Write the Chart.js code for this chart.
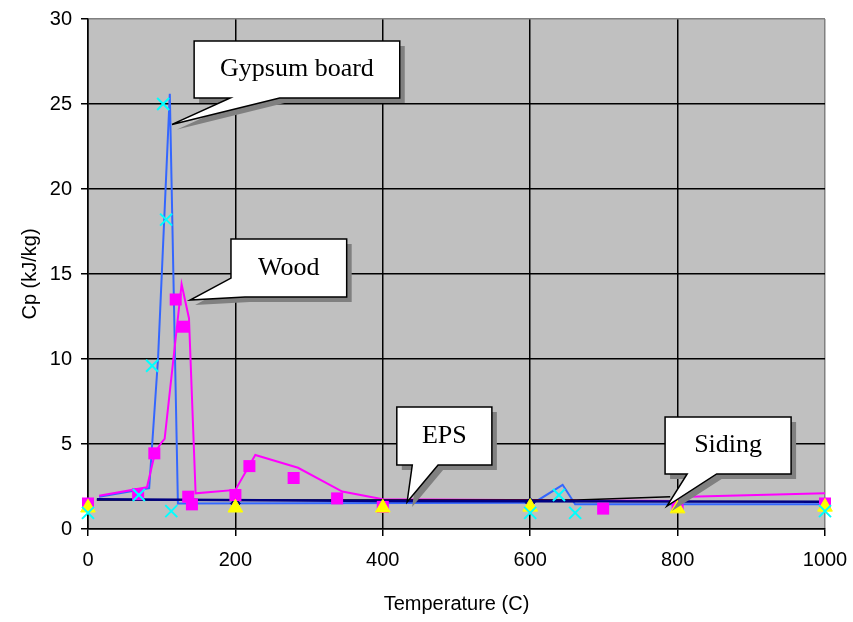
<!DOCTYPE html>
<html>
<head>
<meta charset="utf-8">
<title>Cp vs temperature</title>
<script src="https://cdn.jsdelivr.net/npm/chart.js@4.4.0/dist/chart.umd.min.js"></script>
<style>
  html, body { margin: 0; padding: 0; background: #fff; }
  #wrap { width: 853px; height: 622px; }
</style>
</head>
<body>
<div id="wrap"><canvas id="cp_chart" width="853" height="622"></canvas></div>
<script>
// measured points (markers)
var gypsumTemp = [0, 69, 87, 102, 106, 113, 600, 639, 661, 1000];
var gypsumCp = [0.95, 2.0, 9.6, 25.0, 18.2, 1.05, 0.95, 2.0, 0.95, 1.05];

var woodTemp = [0, 68, 90, 119, 129, 136, 141, 200, 219, 279, 338, 400, 699, 800, 1000];
var woodCp = [1.5, 2.05, 4.45, 13.5, 11.9, 1.9, 1.45, 2.0, 3.7, 3.0, 1.8, 1.3, 1.2, 1.3, 1.5];

var sidingTemp = [0, 200, 400, 600, 800, 1000];
var sidingCp = [1.25, 1.25, 1.25, 1.3, 1.2, 1.3];

var epsTemp = [200, 600];
var epsCp = [1.5, 1.55];

// model curves (lines)
var gypsumModelTemp = [15, 83, 95, 111, 122, 600, 609, 644, 661, 1000];
var gypsumModelCp = [1.9, 2.4, 10, 25.6, 1.5, 1.55, 1.65, 2.6, 1.45, 1.45];

var woodModelTemp = [15, 80, 91, 100, 104, 127, 137, 146, 200, 227, 285, 345, 400, 800, 815, 1000];
var woodModelCp = [1.95, 2.45, 4.5, 5.1, 5.3, 14.4, 12.4, 2.1, 2.3, 4.35, 3.6, 2.2, 1.75, 1.65, 1.9, 2.1];

var epsModelTemp = [12, 400, 1000];
var epsModelCp = [1.75, 1.65, 1.6];

var sidingModelTemp = [12, 663, 790];
var sidingModelCp = [1.7, 1.7, 1.9];

var xTicks = [0, 200, 400, 600, 800, 1000];
var yTicks = [0, 5, 10, 15, 20, 25, 30];

function pts(xs, ys) {
  return xs.map(function (x, i) { return {x: x, y: ys[i]}; });
}

// callout boxes, in data units: box [left, top, right, bottom], pointer base points and tip
var callouts = [
  {text: "Gypsum board", box: [144, 28.7, 423, 25.35], from: [260, 25.35], tip: [114, 23.8], to: [193, 25.35]},
  {text: "Wood", box: [194, 17.06, 351, 13.65], from: [213, 13.65], tip: [138.5, 13.47], to: [194, 14.76]},
  {text: "EPS", box: [419, 7.18, 548, 3.76], from: [475, 3.76], tip: [433, 1.59], to: [440, 3.76]},
  {text: "Siding", box: [783, 6.59, 954, 3.24], from: [853, 3.24], tip: [785.6, 1.35], to: [813, 3.24]}
];

var plotBackground = {
  id: 'plotBackground',
  beforeDraw: function (chart) {
    var a = chart.chartArea, ctx = chart.ctx;
    ctx.save();
    ctx.fillStyle = '#c0c0c0';
    ctx.fillRect(a.left, a.top, a.right - a.left, a.bottom - a.top);
    ctx.restore();
  }
};

var calloutPlugin = {
  id: 'callouts',
  afterDatasetsDraw: function (chart) {
    var ctx = chart.ctx, xs = chart.scales.x, ys = chart.scales.y;
    var px = function (v) { return xs.getPixelForValue(v); };
    var py = function (v) { return ys.getPixelForValue(v); };
    callouts.forEach(function (c) {
      var L = px(c.box[0]), T = py(c.box[1]), R = px(c.box[2]), B = py(c.box[3]);
      var poly = [[L, T], [R, T], [R, B], [px(c.from[0]), py(c.from[1])],
                  [px(c.tip[0]), py(c.tip[1])], [px(c.to[0]), py(c.to[1])]];
      if (c.to[0] !== c.box[0]) poly.push([L, B]);
      var trace = function (dx, dy) {
        ctx.beginPath();
        poly.forEach(function (p, i) {
          if (i === 0) ctx.moveTo(p[0] + dx, p[1] + dy);
          else ctx.lineTo(p[0] + dx, p[1] + dy);
        });
        ctx.closePath();
      };
      ctx.save();
      trace(5, 5);
      ctx.fillStyle = '#808080';
      ctx.fill();
      trace(0, 0);
      ctx.fillStyle = '#ffffff';
      ctx.fill();
      ctx.lineWidth = 1.5;
      ctx.strokeStyle = '#000';
      ctx.lineJoin = 'miter';
      ctx.stroke();
      ctx.fillStyle = '#000';
      ctx.font = '26px "Liberation Serif", "Times New Roman", serif';
      ctx.textAlign = 'center';
      ctx.textBaseline = 'middle';
      ctx.fillText(c.text, (L + R) / 2, (T + B) / 2);
      ctx.restore();
    });
  }
};

var axisFont = {family: '"Liberation Sans", Arial, sans-serif', size: 20};
var plainLabel = function (v) { return String(v); };

var chart = new Chart(document.getElementById('cp_chart').getContext('2d'), {
  type: 'scatter',
  data: {
    datasets: [
      {label: 'Gypsum board', data: pts(gypsumTemp, gypsumCp), pointStyle: 'crossRot', pointRadius: 8.5,
       borderColor: '#00ffff', backgroundColor: '#00ffff', pointBorderWidth: 2, showLine: false, clip: false, order: 0},
      {label: 'Siding', data: pts(sidingTemp, sidingCp), pointStyle: 'triangle', pointRadius: 8.5,
       borderColor: '#ffff00', backgroundColor: '#ffff00', pointBorderWidth: 1, showLine: false, clip: false, order: 1},
      {label: 'Wood', data: pts(woodTemp, woodCp), pointStyle: 'rect', pointRadius: 8.5,
       borderColor: '#ff00ff', backgroundColor: '#ff00ff', pointBorderWidth: 0, showLine: false, clip: false, order: 2},
      {label: 'EPS model', data: pts(epsModelTemp, epsModelCp), showLine: true, pointRadius: 0,
       borderColor: '#000080', borderWidth: 2.5, order: 3},
      {label: 'EPS', data: pts(epsTemp, epsCp), pointStyle: 'rectRot', pointRadius: 5,
       borderColor: '#000080', backgroundColor: '#000080', showLine: false, clip: false, order: 4},
      {label: 'Siding model', data: pts(sidingModelTemp, sidingModelCp), showLine: true, pointRadius: 0,
       borderColor: '#000000', borderWidth: 1.5, order: 5},
      {label: 'Wood model', data: pts(woodModelTemp, woodModelCp), showLine: true, pointRadius: 0,
       borderColor: '#ff00ff', borderWidth: 2, order: 6},
      {label: 'Gypsum model', data: pts(gypsumModelTemp, gypsumModelCp), showLine: true, pointRadius: 0,
       borderColor: '#3366ff', borderWidth: 2, order: 7}
    ]
  },
  options: {
    responsive: false,
    animation: false,
    layout: {padding: {top: 19, right: 28, left: 0, bottom: 0}},
    plugins: {legend: {display: false}, tooltip: {enabled: false}},
    scales: {
      x: {
        type: 'linear', min: 0, max: 1000,
        afterFit: function (s) { s.height = 93; s.paddingLeft = 0; s.paddingRight = 0; },
        afterBuildTicks: function (s) { s.ticks = xTicks.map(function (v) { return {value: v}; }); },
        ticks: {color: '#000', font: axisFont, padding: 12, maxRotation: 0, callback: plainLabel},
        grid: {
          color: function (c) { return c.tick && c.tick.value === 1000 ? '#808080' : '#000'; },
          lineWidth: 1.5, tickLength: 7, tickColor: '#000', tickWidth: 1.5
        },
        border: {color: '#000', width: 1.5},
        title: {display: true, text: 'Temperature (C)', color: '#000', font: axisFont, padding: {top: 0, bottom: 6}}
      },
      y: {
        type: 'linear', min: 0, max: 30,
        afterFit: function (s) { s.width = 88; s.paddingTop = 0; s.paddingBottom = 0; },
        afterBuildTicks: function (s) { s.ticks = yTicks.map(function (v) { return {value: v}; }); },
        ticks: {color: '#000', font: axisFont, padding: 9, callback: plainLabel},
        grid: {
          color: function (c) { return c.tick && c.tick.value === 30 ? '#808080' : '#000'; },
          lineWidth: 1.5, tickLength: 7, tickColor: '#000', tickWidth: 1.5
        },
        border: {color: '#000', width: 1.5},
        title: {display: true, text: 'Cp (kJ/kg)', color: '#000', font: axisFont, padding: {top: 18, bottom: 0}}
      }
    }
  },
  plugins: [plotBackground, calloutPlugin]
});
</script>
</body>
</html>
